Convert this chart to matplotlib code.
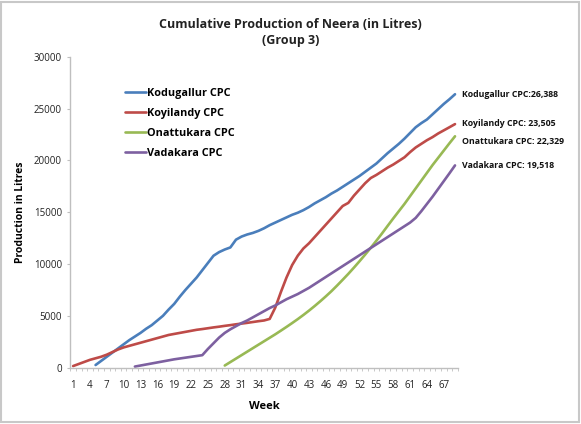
import numpy as np
import matplotlib
matplotlib.use("Agg")
import matplotlib.pyplot as plt
from matplotlib.patches import Rectangle

plt.rcParams['font.family'] = ['Open Sans', 'DejaVu Sans']

# weekly cumulative production (litres), weeks 1..69; None = not yet started
weeks = list(range(1, 70))

kodugallur = [None, None, None, None, 250, 650, 1050, 1450, 1850, 2250,
              2650, 3000, 3350, 3750, 4100, 4550, 5000, 5600, 6150, 6850,
              7500, 8100, 8700, 9400, 10100, 10800, 11150, 11400, 11600, 12350,
              12650, 12850, 13000, 13200, 13450, 13750, 14000, 14250, 14500, 14750,
              14950, 15200, 15500, 15850, 16150, 16450, 16800, 17100, 17450, 17800,
              18150, 18500, 18900, 19300, 19700, 20200, 20700, 21150, 21600, 22100,
              22650, 23200, 23600, 23950, 24450, 24950, 25450, 25900, 26388]

koyilandy = [150, 350, 550, 750, 900, 1050, 1250, 1500, 1750, 1950,
             2100, 2250, 2400, 2550, 2700, 2850, 3000, 3150, 3250, 3350,
             3450, 3550, 3650, 3720, 3800, 3880, 3950, 4030, 4100, 4180,
             4250, 4320, 4400, 4480, 4550, 4700, 5800, 7300, 8700, 9900,
             10800, 11500, 12000, 12600, 13200, 13800, 14400, 15000, 15600, 15900,
             16600, 17200, 17800, 18300, 18600, 18950, 19300, 19600, 19950, 20300,
             20800, 21250, 21600, 21950, 22250, 22600, 22900, 23200, 23505]

onattukara = [None] * 27 + [
    200, 535, 870, 1205, 1540, 1875, 2210, 2545, 2880, 3215,
    3570, 3930, 4300, 4680, 5080, 5500, 5940, 6400, 6880, 7380,
    7920, 8480, 9050, 9650, 10270, 10910, 11570, 12250, 12950, 13680,
    14400, 15100, 15800, 16550, 17300, 18050, 18800, 19550, 20250, 20950,
    21650, 22329]

vadakara = [None] * 11 + [
    100, 200, 300, 400, 500, 600, 700, 800, 880, 960,
    1040, 1120, 1200, 1800, 2350, 2900, 3350, 3700, 4000, 4300,
    4550, 4850, 5150, 5450, 5750, 6000, 6300, 6600, 6850, 7100,
    7400, 7700, 8050, 8400, 8750, 9100, 9450, 9800, 10150, 10500,
    10850, 11200, 11550, 11900, 12250, 12600, 12950, 13300, 13650, 14000,
    14450, 15100, 15800, 16500, 17250, 18000, 18750, 19518]

names = ['Kodugallur CPC', 'Koyilandy CPC', 'Onattukara CPC', 'Vadakara CPC']
series = [kodugallur, koyilandy, onattukara, vadakara]
colors = ['#4a7ebb', '#be4b48', '#98b954', '#7d60a0']
end_labels = ['Kodugallur CPC:26,388', 'Koyilandy CPC: 23,505',
              'Onattukara CPC: 22,329', 'Vadakara CPC: 19,518']
end_label_y = [26360, 23550, 21800, 19500]

fig = plt.figure(figsize=(5.81, 4.24), dpi=100)
ax = fig.add_axes([0.121, 0.133, 0.667, 0.733])

for name, vals, c in zip(names, series, colors):
    y = np.array([np.nan if v is None else v for v in vals], dtype=float)
    ax.plot(weeks, y, color=c, lw=1.9, label=name, solid_capstyle='round')

ax.set_xlim(0.5, 69.5)
ax.set_ylim(0, 30000)
ax.set_yticks(range(0, 30001, 5000))
ax.set_xticks(weeks[::3])
ax.set_xticks(np.arange(0.5, 70, 1), minor=True)
ax.tick_params(axis='x', which='major', length=0, pad=9, labelsize=7, colors='#222222')
ax.tick_params(axis='x', which='minor', length=2.5, color='#bfbfbf')
ax.tick_params(axis='y', length=2.5, color='#bfbfbf', labelsize=7, labelcolor='#222222')

for s in ['top', 'right']:
    ax.spines[s].set_visible(False)
for s in ['left', 'bottom']:
    ax.spines[s].set_color('#bfbfbf')
    ax.spines[s].set_linewidth(1.0)

ax.set_xlabel('Week', fontsize=8, fontweight='bold', labelpad=7)
ax.set_ylabel('Production in Litres', fontsize=7.5, fontweight='bold', labelpad=6)

for txt, yv in zip(end_labels, end_label_y):
    ax.text(70.3, yv, txt, fontsize=6.3, fontweight='bold', va='center',
            ha='left', clip_on=False, color='#111111')

leg = ax.legend(loc='upper left', bbox_to_anchor=(0.13, 0.915), frameon=False,
                fontsize=7.8, handlelength=1.9, handletextpad=0.1,
                labelspacing=0.85, borderaxespad=0)
for t in leg.get_texts():
    t.set_fontweight('bold')

fig.text(0.5, 0.958, 'Cumulative Production of Neera (in Litres)\n(Group 3)',
         ha='center', va='top', fontsize=9, fontweight='bold',
         linespacing=1.3, color='#222222')

fig.patches.append(Rectangle((0.002, 0.004), 0.995, 0.992, transform=fig.transFigure,
                             fill=False, edgecolor='#c8c8c8', lw=1.5))

fig.savefig('out.png', dpi=100)
